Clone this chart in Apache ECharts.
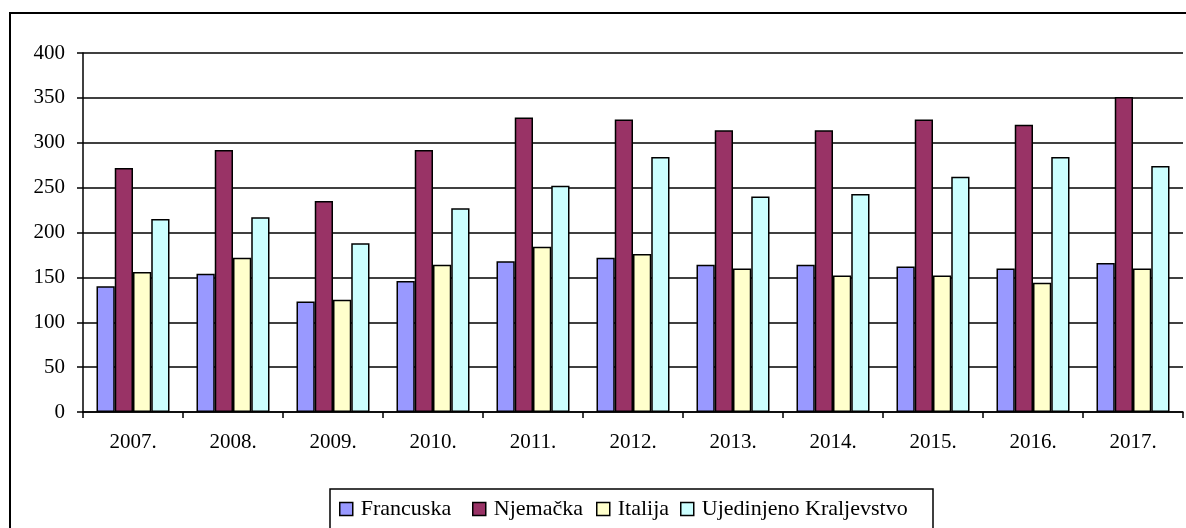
<!DOCTYPE html>
<html>
<head>
<meta charset="utf-8">
<script src="https://cdn.jsdelivr.net/npm/echarts@6/dist/echarts.min.js"></script>
<style>
  html, body { margin: 0; padding: 0; background: #fff; }
  #chart { width: 1186px; height: 528px; }
</style>
</head>
<body>
<div id="chart"></div>
<script>
(function () {
  'use strict';

  const years = ['2007.', '2008.', '2009.', '2010.', '2011.', '2012.', '2013.', '2014.', '2015.', '2016.', '2017.'];
  const francuska = [140, 154, 123, 146, 168, 172, 164, 164, 162, 160, 166];
  const njemacka = [272, 292, 235, 292, 328, 326, 314, 314, 326, 320, 351];
  const italija = [156, 172, 125, 164, 184, 176, 160, 152, 152, 144, 160];
  const ujedinjeno = [215, 217, 188, 227, 252, 284, 240, 243, 262, 284, 274];
  const names = ['Francuska', 'Njemačka', 'Italija', 'Ujedinjeno Kraljevstvo'];
  const colors = ['#9999FF', '#993366', '#FFFFCC', '#CCFFFF'];

  const font = '"Liberation Serif", "Times New Roman", serif';
  const chart = echarts.init(document.getElementById('chart'));

  function bar(i, data) {
    return {
      name: names[i],
      type: 'bar',
      data: data,
      barGap: '0%',
      barCategoryGap: '27%',
      animation: false,
      itemStyle: { color: colors[i], borderColor: '#000', borderWidth: 1.5 }
    };
  }

  // one legend per entry so each sits where it does in the original
  const legendLeft = [339, 472, 596, 680];
  const legends = names.map((n, i) => ({
    data: [n],
    left: legendLeft[i],
    top: 498,
    padding: 0,
    itemWidth: 13,
    itemHeight: 13,
    icon: 'rect',
    itemStyle: { borderColor: '#000', borderWidth: 1.5 },
    textStyle: { fontFamily: font, fontSize: 22, color: '#000', padding: [0, 0, 0, 3] }
  }));

  chart.setOption({
    backgroundColor: '#fff',
    textStyle: { fontFamily: font, color: '#000' },
    graphic: [
      {
        type: 'rect',
        shape: { x: 10, y: 13, width: 1190, height: 540 },
        style: { fill: 'none', stroke: '#000', lineWidth: 2 },
        silent: true
      },
      {
        type: 'rect',
        shape: { x: 330, y: 489, width: 603, height: 60 },
        style: { fill: 'none', stroke: '#000', lineWidth: 1.5 },
        silent: true
      }
    ],
    grid: { left: 83, right: 3, top: 53, bottom: 116 },
    legend: legends,
    xAxis: {
      type: 'category',
      data: years,
      axisLine: { lineStyle: { color: '#000', width: 1.5 } },
      axisTick: { show: true, length: 6, lineStyle: { color: '#000', width: 1.5 } },
      axisLabel: { fontFamily: font, fontSize: 21, color: '#000', margin: 20 }
    },
    yAxis: {
      type: 'value',
      min: 0,
      max: 400,
      interval: 50,
      axisLine: { show: true, lineStyle: { color: '#000', width: 1.5 } },
      axisTick: { show: true, length: 6, lineStyle: { color: '#000', width: 1.5 } },
      splitLine: { lineStyle: { color: '#000', width: 1.5 } },
      axisLabel: { fontFamily: font, fontSize: 21, color: '#000', margin: 18 }
    },
    series: [
      bar(0, francuska),
      bar(1, njemacka),
      bar(2, italija),
      bar(3, ujedinjeno)
    ]
  });
})();
</script>
</body>
</html>
